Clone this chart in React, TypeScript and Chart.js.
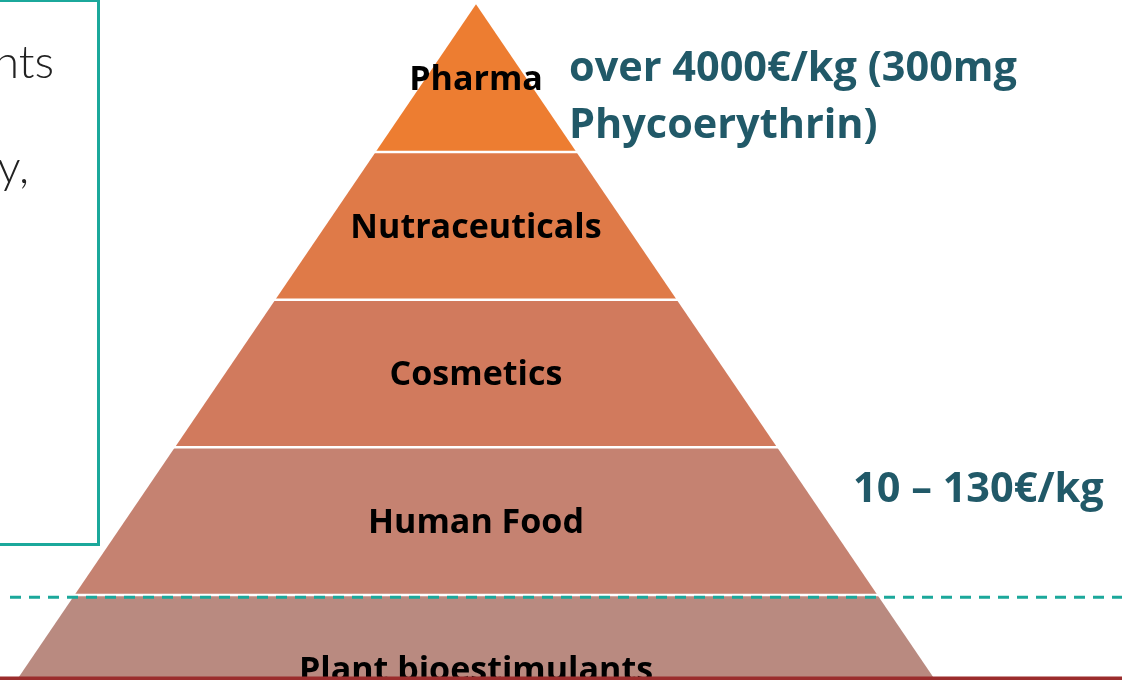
import React, { useEffect, useRef } from 'react';
import { Chart, registerables } from 'chart.js';

Chart.register(...registerables);

// Pyramid tiers, bottom to top
const tiers = ['Plant bioestimulants', 'Human Food', 'Cosmetics', 'Nutraceuticals', 'Pharma'];
const tierColors = ['#B98A80', '#C58271', '#D17A5D', '#DF7A48', '#ED7D31'];
const tierCount = 5;
// Price annotations
const priceHighLines = ['over 4000€/kg (300mg', 'Phycoerythrin)'];
const priceLowLines = ['10 – 130€/kg'];
// Fragments of the text box on the left
const boxTextLines = ['nts', 'y,'];
// Dashed threshold level (in tier units)
const thresholdLevel = 0.985;

const halfWidth = (level: number) => (tierCount - level) / tierCount;

function fitSize(ctx: CanvasRenderingContext2D, text: string, weight: string, family: string, target: number) {
  ctx.font = `${weight} 100px ${family}`;
  return (100 * target) / ctx.measureText(text).width;
}

const decorPlugin = {
  id: 'decor',
  afterDatasetsDraw(chart: any) {
    const { ctx, scales } = chart;
    const x = scales.x;
    const y = scales.y;
    ctx.save();

    // tier labels
    const labelFamily = '"Open Sans", sans-serif';
    const ls = fitSize(ctx, 'Human Food', '700', labelFamily, 216);
    ctx.font = `700 ${ls}px ${labelFamily}`;
    ctx.fillStyle = '#000000';
    ctx.textAlign = 'center';
    ctx.textBaseline = 'middle';
    tiers.forEach((name, k) => {
      ctx.fillText(name, x.getPixelForValue(0), y.getPixelForValue(k + 0.5) + 2);
    });

    // price annotations
    const ts = fitSize(ctx, priceHighLines[0], '700', labelFamily, 448);
    ctx.font = `700 ${ts}px ${labelFamily}`;
    ctx.fillStyle = '#215968';
    ctx.textAlign = 'left';
    ctx.textBaseline = 'alphabetic';
    ctx.fillText(priceHighLines[0], 569, 81);
    ctx.fillText(priceHighLines[1], 569, 138);
    ctx.fillText(priceLowLines[0], 853, 502);

    // left text box
    ctx.strokeStyle = '#1BA89B';
    ctx.lineWidth = 3;
    ctx.strokeRect(-5, 0.5, 103.5, 544);
    ctx.font = '300 46px Lato, sans-serif';
    ctx.fillStyle = '#222222';
    ctx.textAlign = 'right';
    ctx.fillText(boxTextLines[0], 54, 78);
    ctx.fillText(boxTextLines[1], 29, 183);

    ctx.restore();
  },
  afterDraw(chart: any) {
    const { ctx, width, height } = chart;
    ctx.save();
    ctx.fillStyle = '#9B2D2D';
    ctx.fillRect(0, height - 3.5, width, 3.5);
    ctx.restore();
  },
};

export default function App() {
  const ref = useRef<HTMLCanvasElement | null>(null);

  useEffect(() => {
    if (!ref.current) return;

    const tierSets = tiers.map((name, k) => ({
      label: name,
      data: [
        { x: -halfWidth(k), y: k },
        { x: -halfWidth(k + 1), y: k + 1 },
        { x: halfWidth(k + 1), y: k + 1 },
        { x: halfWidth(k), y: k },
      ],
      fill: { value: k },
      backgroundColor: tierColors[k],
      borderColor: 'rgba(0,0,0,0)',
      borderWidth: 0,
      pointRadius: 0,
      tension: 0,
      order: 3,
    }));

    const separatorSets = tiers.slice(1).map((_, i) => {
      const k = i + 1;
      return {
        label: `sep${k}`,
        data: [
          { x: -halfWidth(k) - 0.01, y: k },
          { x: halfWidth(k) + 0.01, y: k },
        ],
        fill: false,
        borderColor: '#FFFFFF',
        borderWidth: 2.5,
        pointRadius: 0,
        order: 2,
      };
    });

    const xMin = -476 / 501.8;
    const xMax = 646 / 501.8;
    const yMax = tierCount + 4.33 / 147.67;
    const yMin = tierCount - (680 - 4.33) / 147.67;

    const dashedSet = {
      label: 'threshold',
      data: [
        { x: (10 - 476) / 501.8, y: thresholdLevel },
        { x: xMax, y: thresholdLevel },
      ],
      fill: false,
      borderColor: '#1BA89B',
      borderWidth: 3,
      borderDash: [11, 8],
      pointRadius: 0,
      order: 1,
    };

    const chart = new Chart(ref.current, {
      type: 'line',
      data: { datasets: [dashedSet, ...separatorSets, ...tierSets] as any },
      options: {
        animation: false,
        responsive: false,
        maintainAspectRatio: false,
        layout: { padding: 0 },
        scales: {
          x: { type: 'linear', min: xMin, max: xMax, display: false },
          y: { type: 'linear', min: yMin, max: yMax, display: false },
        },
        plugins: {
          legend: { display: false },
          tooltip: { enabled: false },
        },
      },
      plugins: [decorPlugin],
    });

    return () => chart.destroy();
  }, []);

  return (
    <div style={{ position: 'absolute', left: 0, top: 0, width: 1122, height: 680, background: '#fff' }}>
      <canvas ref={ref} width={1122} height={680} style={{ display: 'block' }} />
    </div>
  );
}
